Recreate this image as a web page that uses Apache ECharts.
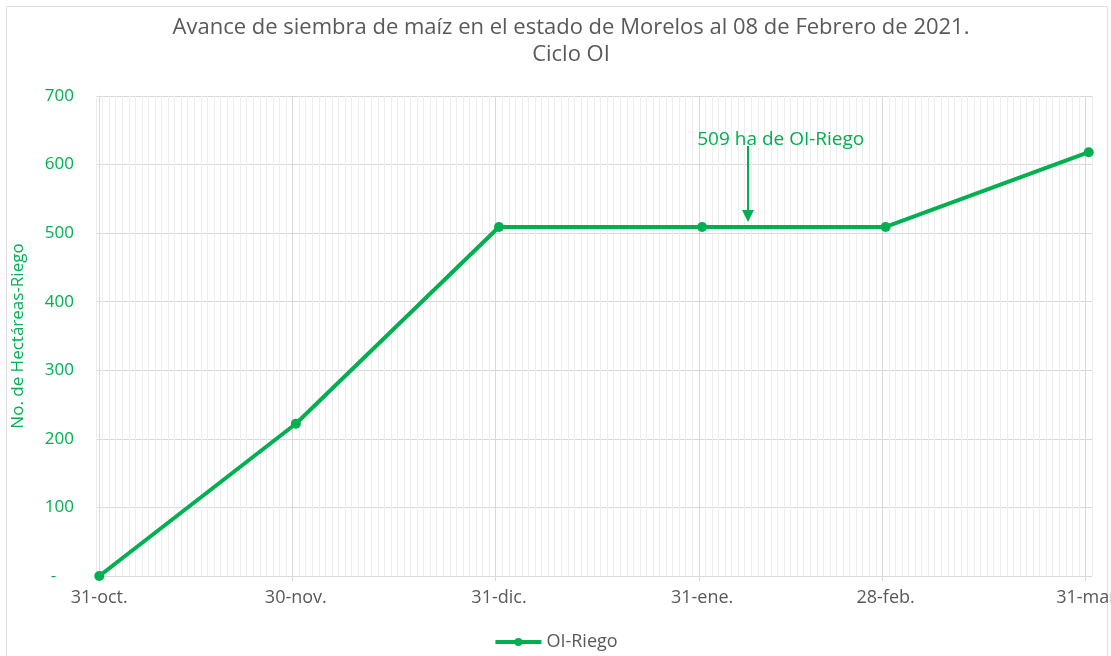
<!DOCTYPE html>
<html>
<head>
<meta charset="utf-8">
<script src="https://cdn.jsdelivr.net/npm/echarts@6/dist/echarts.min.js"></script>
<style>
html,body{margin:0;padding:0;background:#fff;}
#chart{width:1111px;height:656px;}
</style>
</head>
<body>
<div id="chart"></div>
<script>
// ---- data ----
const dates = ['2020-10-31', '2020-11-30', '2020-12-31', '2021-01-31', '2021-02-28', '2021-03-31'];
const dateLabels = ['31-oct.', '30-nov.', '31-dic.', '31-ene.', '28-feb.', '31-mar.'];
const hectareas = [0, 222, 509, 509, 509, 618];
const yTicks = [0, 100, 200, 300, 400, 500, 600, 700];
const annotationText = '509 ha de OI-Riego';
const annotationDate = '2021-02-07';
const annotationFrom = 627;
const annotationTo = 525;
const annotationTextPos = ['2021-02-12', 637];

const FONT = '"Open Sans", "Noto Sans", sans-serif';
const GREEN = '#00B050';
const GRAY = '#595959';

const startMs = Date.parse(dates[0] + 'T00:00:00Z');
function dayOf(d) { return Math.round((Date.parse(d + 'T00:00:00Z') - startMs) / 86400000); }
const days = dates.map(dayOf);
const lastDay = days[days.length - 1];
const labelMap = {};
days.forEach((d, i) => { labelMap[d] = dateLabels[i]; });

const chart = echarts.init(document.getElementById('chart'), null, {renderer: 'canvas'});
chart.setOption({
  animation: false,
  backgroundColor: '#fff',
  textStyle: {fontFamily: FONT},
  title: {
    text: 'Avance de siembra de maíz en el estado de Morelos al 08 de Febrero de 2021.\nCiclo OI',
    left: 566, textAlign: 'center', top: 9,
    textStyle: {fontFamily: FONT, fontSize: 22, fontWeight: 'normal', color: GRAY, lineHeight: 27}
  },
  graphic: [{
    type: 'rect', silent: true, z: -10,
    shape: {x: 6.5, y: 6.5, width: 1101, height: 680},
    style: {fill: 'none', stroke: '#e0e0e0', lineWidth: 1}
  }],
  legend: {
    bottom: 0, left: 'center',
    itemWidth: 46, itemHeight: 10, itemGap: 8,
    lineStyle: {width: 4},
    textStyle: {fontFamily: FONT, fontSize: 18, color: GRAY},
    data: ['OI-Riego']
  },
  grid: {left: 96, right: 19, top: 96, bottom: 80, containLabel: false, outerBoundsMode: 'none'},
  xAxis: [{
    type: 'value', min: -0.5, max: lastDay + 0.5, interval: 1,
    axisLine: {show: true, lineStyle: {color: '#d9d9d9', width: 1}},
    axisTick: {show: false},
    axisLabel: {show: false},
    splitLine: {show: true, lineStyle: {color: '#ededed', width: 1}}
  }, {
    type: 'value', min: -0.5, max: lastDay + 0.5, position: 'bottom',
    axisLine: {show: false},
    axisTick: {show: true, length: 5, lineStyle: {color: '#d9d9d9'},
      customValues: [-0.5].concat(days.slice(1).map(d => d - 0.5))},
    axisLabel: {show: true, customValues: days, margin: 13, hideOverlap: false,
      fontFamily: FONT, fontSize: 18, color: GRAY,
      formatter: v => labelMap[Math.round(v)] || ''},
    splitLine: {show: false}
  }],
  yAxis: {
    type: 'value', min: 0, max: 700, interval: 100,
    name: 'No. de Hectáreas-Riego', nameLocation: 'middle', nameGap: 69, nameRotate: 90,
    nameTextStyle: {fontFamily: FONT, fontSize: 17, color: GREEN},
    axisLine: {show: true, lineStyle: {color: '#d9d9d9'}},
    axisTick: {show: false},
    axisLabel: {fontFamily: FONT, fontSize: 17, color: GREEN, margin: 22,
      formatter: v => (v === 0 ? '-    ' : String(v))},
    splitLine: {show: true, lineStyle: {color: '#d9d9d9', width: 1}}
  },
  series: [{
    name: 'OI-Riego', type: 'line', xAxisIndex: 0,
    data: days.map((d, i) => [d, hectareas[i]]),
    symbol: 'circle', symbolSize: 10,
    lineStyle: {color: GREEN, width: 4},
    itemStyle: {color: GREEN},
    z: 5,
    markLine: {
      silent: true, symbol: 'none', animation: false,
      label: {show: false},
      lineStyle: {color: '#d9d9d9', type: 'solid', width: 1},
      data: days.slice(1).map(d => ({xAxis: d - 0.5}))
    }
  }, {
    name: 'annot', type: 'line', xAxisIndex: 0, data: [],
    markLine: {
      silent: true, symbol: ['none', 'triangle'], symbolSize: [12, 12],
      label: {show: false},
      lineStyle: {color: GREEN, type: 'solid', width: 2},
      data: [[{coord: [dayOf(annotationDate), annotationFrom]}, {coord: [dayOf(annotationDate), annotationTo]}]]
    },
    markPoint: {
      silent: true, symbol: 'rect', symbolSize: 1,
      itemStyle: {color: 'rgba(0,0,0,0)'},
      label: {show: true, position: 'inside', formatter: annotationText,
        fontFamily: FONT, fontSize: 19, color: GREEN},
      data: [{coord: [dayOf(annotationTextPos[0]), annotationTextPos[1]]}]
    }
  }]
});
</script>
</body>
</html>
